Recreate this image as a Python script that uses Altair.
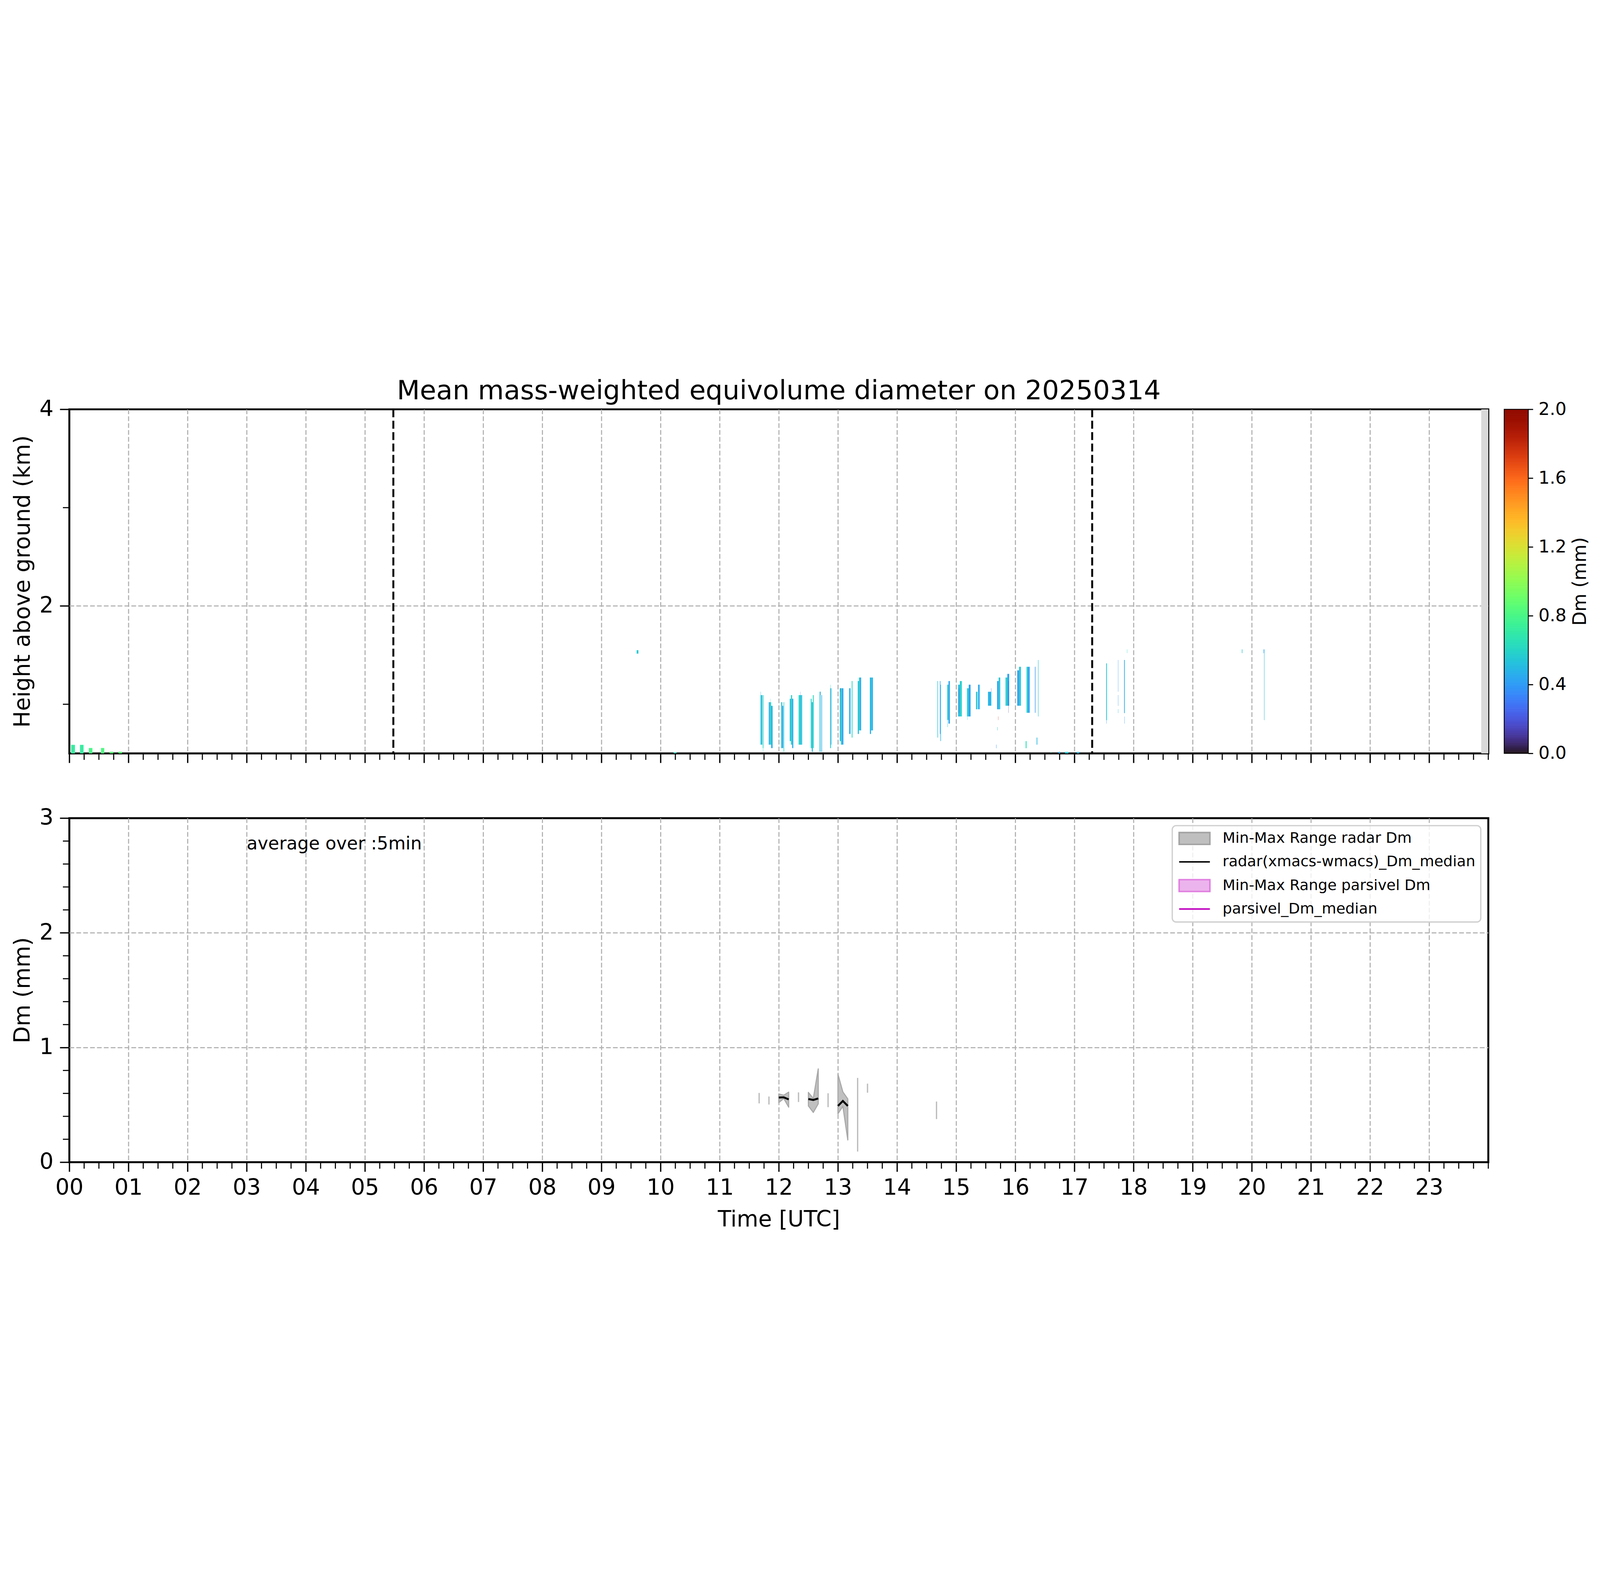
import altair as alt
import pandas as pd

FONT = "DejaVu Sans"
W, H = 6600, 1600
CB_X0, CB_X1 = W + 74, W + 186   # colorbar placed right of the upper panel

# ---------------- values ----------------
title_text = "Mean mass-weighted equivolume diameter on 20250314"
hour_ticks = list(range(24))

# top panel cells: (start hour, end hour, bottom km, top km, Dm mm)
early_cells = [
    (0.030, 0.095, 0.50, 0.587, 0.72),
    (0.180, 0.240, 0.50, 0.587, 0.72),
    (0.330, 0.390, 0.50, 0.555, 0.80),
    (0.535, 0.590, 0.50, 0.555, 0.82),
    (0.680, 0.745, 0.50, 0.517, 0.86),
    (0.830, 0.890, 0.50, 0.517, 0.86),
    (9.595, 9.625, 1.515, 1.550, 0.56),
    (10.22, 10.27, 0.50, 0.510, 0.62),
]
cluster_a_cells = [
    (11.690, 11.705, 0.589, 1.093, 0.56),
    (11.693, 11.697, 1.093, 1.128, 0.52),
    (11.705, 11.720, 0.589, 1.093, 0.47),
    (11.728, 11.740, 0.554, 1.093, 0.62),
    (11.733, 11.737, 0.516, 0.554, 0.62),
    (11.830, 11.845, 0.589, 1.021, 0.42),
    (11.845, 11.870, 0.589, 1.021, 0.60),
    (11.870, 11.895, 0.554, 0.984, 0.47),
    (11.855, 11.858, 1.021, 1.056, 0.62),
    (12.040, 12.058, 0.554, 1.021, 0.52),
    (12.058, 12.075, 0.554, 0.984, 0.43),
    (12.080, 12.090, 0.516, 1.021, 0.63),
    (12.185, 12.205, 0.625, 1.056, 0.50),
    (12.205, 12.225, 0.589, 1.093, 0.60),
    (12.225, 12.245, 0.554, 1.056, 0.46),
    (12.335, 12.355, 0.589, 1.093, 0.62),
    (12.355, 12.375, 0.589, 1.093, 0.47),
    (12.375, 12.395, 0.589, 1.093, 0.58),
    (12.363, 12.366, 1.093, 1.128, 0.30),
    (12.540, 12.555, 0.554, 1.056, 0.58),
    (12.557, 12.575, 0.516, 1.021, 0.50),
    (12.575, 12.590, 0.554, 1.093, 0.63),
    (12.690, 12.705, 0.516, 1.128, 0.55),
    (12.703, 12.706, 1.093, 1.128, 0.15),
    (12.720, 12.730, 0.516, 1.093, 0.42),
    (12.868, 12.883, 0.554, 1.163, 0.58),
    (12.873, 12.877, 1.163, 1.199, 0.62),
    (12.883, 12.890, 0.589, 1.163, 0.40),
    (13.032, 13.050, 0.625, 1.163, 0.47),
    (13.050, 13.070, 0.589, 1.163, 0.58),
    (13.070, 13.092, 0.589, 1.163, 0.42),
    (13.040, 13.043, 1.128, 1.163, 0.10),
    (13.190, 13.213, 0.698, 1.163, 0.45),
    (13.233, 13.246, 0.661, 1.236, 0.62),
    (13.335, 13.355, 0.698, 1.236, 0.52),
    (13.355, 13.375, 0.734, 1.272, 0.58),
    (13.375, 13.392, 0.734, 1.272, 0.42),
    (13.540, 13.560, 0.698, 1.272, 0.47),
    (13.560, 13.575, 0.734, 1.272, 0.55),
    (13.575, 13.592, 0.734, 1.272, 0.45),
]
cluster_b_cells = [
    (14.683, 14.692, 0.661, 1.236, 0.55),
    (14.724, 14.733, 0.698, 1.236, 0.40),
    (14.733, 14.742, 0.625, 1.199, 0.47),
    (14.848, 14.870, 0.840, 1.199, 0.60),
    (14.853, 14.858, 0.767, 0.840, 0.58),
    (14.870, 14.893, 0.803, 1.236, 0.42),
    (15.033, 15.062, 0.876, 1.199, 0.50),
    (15.062, 15.095, 0.876, 1.236, 0.58),
    (15.045, 15.049, 0.913, 1.163, 0.15),
    (15.183, 15.212, 0.876, 1.163, 0.58),
    (15.212, 15.243, 0.876, 1.199, 0.42),
    (15.186, 15.189, 0.840, 0.876, 0.55),
    (15.335, 15.360, 0.949, 1.127, 0.55),
    (15.370, 15.397, 0.949, 1.199, 0.45),
    (15.538, 15.594, 0.985, 1.127, 0.48),
    (15.590, 15.593, 1.127, 1.163, 0.12),
    (15.692, 15.718, 0.949, 1.236, 0.40),
    (15.718, 15.745, 0.949, 1.272, 0.55),
    (15.834, 15.865, 0.985, 1.272, 0.60),
    (15.865, 15.896, 0.985, 1.309, 0.42),
    (15.884, 15.887, 0.913, 1.236, 0.12),
    (16.033, 16.063, 0.985, 1.345, 0.40),
    (16.063, 16.095, 0.985, 1.381, 0.55),
    (16.190, 16.215, 0.913, 1.381, 0.58),
    (16.215, 16.243, 0.913, 1.381, 0.42),
    (16.332, 16.341, 0.913, 1.381, 0.38),
    (16.385, 16.392, 0.876, 1.450, 0.55),
    (15.708, 15.711, 0.840, 0.876, 1.80),
    (15.697, 15.702, 0.734, 0.767, 0.55),
    (15.677, 15.682, 0.553, 0.589, 0.40),
    (16.175, 16.190, 0.553, 0.625, 0.65),
    (16.360, 16.372, 0.589, 0.661, 0.50),
    (16.600, 16.606, 0.500, 0.515, 0.65),
    (16.730, 16.760, 0.500, 0.515, 0.45),
    (16.840, 16.900, 0.500, 0.515, 0.55),
    (17.040, 17.080, 0.500, 0.515, 0.50),
]
cluster_c_cells = [
    (17.537, 17.550, 0.838, 1.416, 0.55),
    (17.540, 17.544, 0.803, 0.838, 0.40),
    (17.738, 17.742, 1.128, 1.451, 0.40),
    (17.738, 17.742, 0.984, 1.093, 0.40),
    (17.738, 17.742, 0.910, 0.950, 0.52),
    (17.840, 17.852, 0.910, 1.451, 0.47),
    (17.846, 17.850, 0.803, 0.875, 0.38),
    (17.888, 17.892, 1.520, 1.558, 0.62),
    (19.830, 19.836, 1.520, 1.558, 0.62),
    (19.839, 19.842, 1.520, 1.558, 0.40),
    (20.200, 20.212, 1.520, 1.558, 0.45),
    (20.208, 20.214, 0.838, 1.520, 0.52),
]
missing_band = [(23.88, 24.0, 0.5, 4.0)]
marker_times = [5.48, 17.30]

# bottom panel: 5-min radar Dm statistics
single_t = [11.667, 11.833, 12.333, 12.833, 13.333, 13.500, 14.667]
single_min = [0.513, 0.503, 0.525, 0.480, 0.093, 0.606, 0.376]
single_max = [0.604, 0.573, 0.609, 0.601, 0.735, 0.685, 0.529]

run_t = [12.0, 12.0833, 12.1667, 12.5, 12.5833, 12.6667, 13.0, 13.0833, 13.1667]
run_id = [1, 1, 1, 2, 2, 2, 3, 3, 3]
run_min = [0.520, 0.556, 0.480, 0.491, 0.434, 0.509, 0.423, 0.487, 0.194]
run_max = [0.595, 0.584, 0.611, 0.609, 0.556, 0.814, 0.767, 0.613, 0.552]
run_median = [0.564, 0.566, 0.548, 0.551, 0.543, 0.556, 0.491, 0.534, 0.491]

note_text = "average over :5min"
note_pos = (3.0, 2.728)

legend_labels = ["Min-Max Range radar Dm", "radar(xmacs-wmacs)_Dm_median",
                 "Min-Max Range parsivel Dm", "parsivel_Dm_median"]
legend_fill = ["#bfbfbf", "#000000", "#ecb4ec", "#bf00bf"]
legend_stroke = ["#a3a3a3", "#000000", "#e07ee0", "#bf00bf"]
RECT_PATH = "M-1,-1L4.2,-1L4.2,1L-1,1Z"
LINE_PATH = "M-1,0L4.2,0"
legend_shapes = [RECT_PATH, LINE_PATH, RECT_PATH, LINE_PATH]

cbar_ticks = [0.0, 0.4, 0.8, 1.2, 1.6, 2.0]
cbar_levels = [i * 0.01 for i in range(200)]

minor_x_ticks = [h + q for h in hour_ticks for q in (0.25, 0.5, 0.75)] + [24.0]
minor_y_top = [1.0, 3.0]
minor_y_bot = [0.2, 0.4, 0.6, 0.8, 1.2, 1.4, 1.6, 1.8, 2.2, 2.4, 2.6, 2.8]

# ---------------- tables ----------------
cols = ["t0", "t1", "h0", "h1", "dm"]
cells_df = pd.DataFrame(early_cells + cluster_a_cells + cluster_b_cells + cluster_c_cells, columns=cols)
band_df = pd.DataFrame(missing_band, columns=["t0", "t1", "h0", "h1"])
marker_df = pd.DataFrame({"t": marker_times})
single_df = pd.DataFrame({"t": single_t, "lo": single_min, "hi": single_max})
run_df = pd.DataFrame({"t": run_t, "run": run_id, "lo": run_min, "hi": run_max, "med": run_median})
note_df = pd.DataFrame({"t": [note_pos[0]], "v": [note_pos[1]], "text": [note_text]})
legend_df = pd.DataFrame({"series": legend_labels})
cbar_df = pd.DataFrame({"lo": cbar_levels,
                        "hi": [v + 0.01 for v in cbar_levels],
                        "mid": [v + 0.005 for v in cbar_levels]})
cbar_frame_df = pd.DataFrame({"lo": [0.0], "hi": [2.0]})
minor_x_df = pd.DataFrame({"t": minor_x_ticks})
minor_yt_df = pd.DataFrame({"v": minor_y_top})
minor_yb_df = pd.DataFrame({"v": minor_y_bot})

# ---------------- scales & axes ----------------
x_scale = alt.Scale(domain=[0, 24], nice=False, zero=False)
yt_scale = alt.Scale(domain=[0.5, 4], nice=False, zero=False)
yb_scale = alt.Scale(domain=[0, 3], nice=False, zero=False)
cb_scale = alt.Scale(domain=[0, 2], nice=False, zero=False)
color_scale = alt.Scale(scheme="turbo", domain=[0, 2])

common = dict(grid=True, gridColor="#b0b0b0", gridDash=[22, 10], gridWidth=5,
              domain=False, tickColor="black", tickWidth=6, tickSize=44,
              labelFont=FONT, labelFontSize=103, labelColor="black",
              titleFont=FONT, titleFontSize=103, titleFontWeight="normal", titleColor="black")

x_top_axis = alt.Axis(values=hour_ticks, labels=False, title=None,
                      gridOpacity={"condition": {"test": "datum.value == 0", "value": 0}, "value": 1},
                      **common)
x_bot_axis = alt.Axis(values=hour_ticks, title="Time [UTC]",
                      labelExpr="datum.value < 10 ? '0' + datum.value : '' + datum.value",
                      labelPadding=27, titlePadding=45, labelFlush=False, labelOverlap=False,
                      gridOpacity={"condition": {"test": "datum.value == 0", "value": 0}, "value": 1},
                      **common)
y_top_axis = alt.Axis(values=[2, 4], title="Height above ground (km)", labelPadding=30, titlePadding=23,
                      gridOpacity={"condition": {"test": "datum.value == 4", "value": 0}, "value": 1},
                      **common)
y_bot_axis = alt.Axis(values=[0, 1, 2, 3], title="Dm (mm)", labelPadding=30, titlePadding=23,
                      gridOpacity={"condition": {"test": "datum.value == 0 || datum.value == 3", "value": 0}, "value": 1},
                      **common)
cb_axis = alt.Axis(orient="right", offset=CB_X1 - W, values=cbar_ticks, format=".1f", grid=False,
                   domain=False, tickSize=22, tickWidth=5, tickColor="black",
                   labelFont=FONT, labelFontSize=82, labelColor="black", labelPadding=25,
                   title="Dm (mm)", titleFont=FONT, titleFontSize=86, titleFontWeight="normal",
                   titleColor="black", titleAngle=270, titleBaseline="top", titlePadding=22)


def XT(f):
    return alt.X(f + ":Q", scale=x_scale, axis=x_top_axis)


def XB(f):
    return alt.X(f + ":Q", scale=x_scale, axis=x_bot_axis)


def YT(f):
    return alt.Y(f + ":Q", scale=yt_scale, axis=y_top_axis)


def YB(f):
    return alt.Y(f + ":Q", scale=yb_scale, axis=y_bot_axis)


def YC(f):
    return alt.Y(f + ":Q", scale=cb_scale, axis=cb_axis)


# ---------------- top panel ----------------
band = alt.Chart(band_df).mark_rect(color="#d9d9d9").encode(
    x=XT("t0"), x2="t1", y=YT("h0"), y2="h1")
cells = alt.Chart(cells_df).mark_rect().encode(
    x=XT("t0"), x2="t1", y=YT("h0"), y2="h1",
    color=alt.Color("dm:Q", scale=color_scale, legend=None))
markers = alt.Chart(marker_df).mark_rule(color="black", strokeWidth=9, strokeDash=[37, 16]).encode(
    x=XT("t"))
top_minor_x = alt.Chart(minor_x_df).mark_rule(color="black", strokeWidth=5).encode(
    x=XT("t"), y=alt.value(H), y2=alt.value(H + 30))
top_minor_y = alt.Chart(minor_yt_df).mark_rule(color="black", strokeWidth=5).encode(
    y=YT("v"), x=alt.value(0), x2=alt.value(-30))
main_top = alt.layer(band, cells, markers, top_minor_x, top_minor_y)

# colorbar, drawn through its own y scale
cbar_rects = alt.Chart(cbar_df).mark_rect(strokeWidth=1.5).encode(
    x=alt.value(CB_X0), x2=alt.value(CB_X1),
    y=YC("lo"), y2="hi",
    color=alt.Color("mid:Q", scale=color_scale, legend=None),
    stroke=alt.Stroke("mid:Q", scale=color_scale, legend=None),
)
cbar_frame = alt.Chart(cbar_frame_df).mark_rect(fillOpacity=0, stroke="black", strokeWidth=4).encode(
    x=alt.value(CB_X0), x2=alt.value(CB_X1), y=YC("lo"), y2="hi")
cbar = alt.layer(cbar_rects, cbar_frame)

top = alt.layer(main_top, cbar).resolve_scale(y="independent").properties(
    width=W, height=H,
    title=alt.TitleParams(text=title_text, font=FONT, fontSize=124, fontWeight="normal",
                          color="black", anchor="middle", frame="group",
                          baseline="alphabetic", offset=-129),
    view=alt.ViewBackground(stroke="black", strokeWidth=9),
)

# ---------------- bottom panel ----------------
leg = alt.Legend(title=None, orient="top-right", offset=35, padding=25,
                 fillColor="rgba(255,255,255,0.8)", strokeColor="#d0d0d0", cornerRadius=18,
                 labelFont=FONT, labelFontSize=69, labelColor="black", labelLimit=3000,
                 labelOffset=140, rowPadding=33, symbolSize=3025, symbolStrokeWidth=7,
                 symbolOpacity=1)

areas = alt.Chart(run_df).mark_area(fill="#c0c0c0", stroke="#a8a8a8", strokeWidth=5,
                                    strokeJoin="round", opacity=1).encode(
    x=XB("t"), y=YB("lo"), y2="hi", detail="run:N")
singles = alt.Chart(single_df).mark_rule(color="#bcbcbc", strokeWidth=6).encode(
    x=XB("t"), y=YB("lo"), y2="hi")
medians = alt.Chart(run_df).mark_line(color="black", strokeWidth=9).encode(
    x=XB("t"), y=YB("med"), detail="run:N")
note = alt.Chart(note_df).mark_text(align="left", baseline="alphabetic", font=FONT,
                                    fontSize=83, color="black").encode(
    x=XB("t"), y=YB("v"), text="text:N")
legend_layer = alt.Chart(legend_df).mark_point(size=0, filled=True).encode(
    fill=alt.Fill("series:N", scale=alt.Scale(domain=legend_labels, range=legend_fill), legend=leg),
    stroke=alt.Stroke("series:N", scale=alt.Scale(domain=legend_labels, range=legend_stroke), legend=leg),
    shape=alt.Shape("series:N", scale=alt.Scale(domain=legend_labels, range=legend_shapes), legend=leg),
)
bot_minor_x = alt.Chart(minor_x_df).mark_rule(color="black", strokeWidth=5).encode(
    x=XB("t"), y=alt.value(H), y2=alt.value(H + 30))
bot_minor_y = alt.Chart(minor_yb_df).mark_rule(color="black", strokeWidth=5).encode(
    y=YB("v"), x=alt.value(0), x2=alt.value(-30))

bottom = alt.layer(areas, singles, medians, note, legend_layer, bot_minor_x, bot_minor_y).properties(
    width=W, height=H, view=alt.ViewBackground(stroke="black", strokeWidth=9))

chart = alt.vconcat(top, bottom, spacing=301, bounds="flush").resolve_legend(
    fill="independent", stroke="independent", shape="independent", color="independent",
).properties(
    padding={"left": 36, "top": 81, "right": 30, "bottom": 2},
    background="white",
).configure(font=FONT).configure_legend(strokeWidth=6)

chart.save("out.html", embed_options={"renderer": "svg", "actions": False})
